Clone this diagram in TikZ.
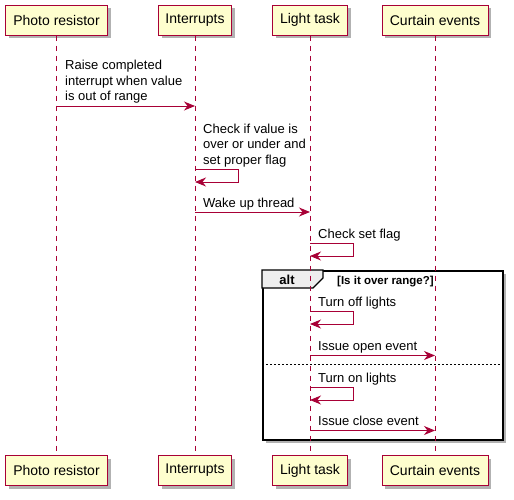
\documentclass[tikz,border=0pt]{standalone}
\usepackage{fontspec}
\setmainfont{Liberation Sans}
\usetikzlibrary{arrows.meta,shadows}
\definecolor{pborder}{HTML}{A80036}
\definecolor{pfill}{HTML}{FEFECE}
\definecolor{tabfill}{HTML}{EEEEEE}
\tikzset{
  part/.style={draw=pborder, fill=pfill, line width=1pt, minimum height=30pt,
    inner sep=0pt, font=\fontsize{14}{17}\selectfont,
    drop shadow={shadow xshift=3pt, shadow yshift=-3pt, opacity=0.3, fill=black}},
  lifeline/.style={draw=pborder, line width=0.8pt, dash pattern=on 5pt off 5pt},
  msg/.style={draw=pborder, line width=1pt,
    -{Stealth[length=11pt, width=9pt, inset=3.5pt]}},
  msgtext/.style={font=\fontsize{13}{15.5}\selectfont, align=left, inner sep=0pt,
    text depth=0pt, anchor=south west},
  altframe/.style={draw=black, line width=1.6pt, fill=white, inner sep=0pt,
    anchor=north west,
    drop shadow={shadow xshift=3pt, shadow yshift=-3pt, opacity=0.3, fill=black}},
  tabshape/.style={draw=black, line width=1.2pt, fill=tabfill},
  separator/.style={draw=black, line width=0.8pt, dash pattern=on 2pt off 2pt},
}
\begin{document}
\begin{tikzpicture}[x=1pt,y=-1pt]
\useasboundingbox (0,0) rectangle (514,499);

% alt frame
\node[altframe, minimum width=240pt, minimum height=169pt] (alt) at (262,270) {};
\draw[tabshape] (262,270) -- (323,270) -- (323,278) -- (313,288) -- (262,288) -- cycle;
\node[font=\bfseries\fontsize{13}{15}\selectfont, inner sep=0pt, anchor=base] (altlbl) at (287,284.5) {alt};
\node[font=\bfseries\fontsize{11.5}{14}\selectfont, inner sep=0pt, anchor=base west] (cond) at (337,284) {[Is it over range?]};
\coordinate (sepL) at (262,364);
\coordinate (sepR) at (502,364);
\draw[separator] (sepL) -- (sepR);

% participants
\node[part, minimum width=102pt] (pa) at (56.5,20) {Photo resistor};
\node[part, minimum width=73pt] (pb) at (195,20) {Interrupts};
\node[part, minimum width=75pt] (pc) at (310,20) {Light task};
\node[part, minimum width=106pt] (pd) at (435,20) {Curtain events};
\node[part, minimum width=102pt] (qa) at (56.5,470.5) {Photo resistor};
\node[part, minimum width=73pt] (qb) at (195,470.5) {Interrupts};
\node[part, minimum width=75pt] (qc) at (310,470.5) {Light task};
\node[part, minimum width=106pt] (qd) at (435,470.5) {Curtain events};

% lifelines
\draw[lifeline] (pa.south) -- (qa.north);
\draw[lifeline] (pb.south) -- (qb.north);
\draw[lifeline] (pc.south) -- (qc.north);
\draw[lifeline] (pd.south) -- (qd.north);

% message 1
\node[msgtext] (t1) at (65,101) {Raise completed\\interrupt when value\\is out of range};
\coordinate (m1s) at (56.5,106);
\coordinate (m1e) at (195,106);
\draw[msg] (m1s) -- (m1e);

% message 2 (self)
\node[msgtext] (t2) at (203,164.5) {Check if value is\\over or under and\\set proper flag};
\coordinate (m2s) at (195,169);
\coordinate (m2e) at (195,182);
\draw[msg] (m2s) -- ++(43,0) |- (m2e);

% message 3
\node[msgtext] (t3) at (203,207.5) {Wake up thread};
\coordinate (m3s) at (195,212);
\coordinate (m3e) at (310,212);
\draw[msg] (m3s) -- (m3e);

% message 4 (self)
\node[msgtext] (t4) at (318,238.5) {Check set flag};
\coordinate (m4s) at (310,243);
\coordinate (m4e) at (310,256);
\draw[msg] (m4s) -- ++(43,0) |- (m4e);

% message 5 (self)
\node[msgtext] (t5) at (318,306.5) {Turn off lights};
\coordinate (m5s) at (310,311);
\coordinate (m5e) at (310,324);
\draw[msg] (m5s) -- ++(43,0) |- (m5e);

% message 6
\node[msgtext] (t6) at (318,351) {Issue open event};
\coordinate (m6s) at (310,355.5);
\coordinate (m6e) at (435,355.5);
\draw[msg] (m6s) -- (m6e);

% message 7 (self)
\node[msgtext] (t7) at (318,382.5) {Turn on lights};
\coordinate (m7s) at (310,387);
\coordinate (m7e) at (310,400);
\draw[msg] (m7s) -- ++(43,0) |- (m7e);

% message 8
\node[msgtext] (t8) at (318,425.5) {Issue close event};
\coordinate (m8s) at (310,430.5);
\coordinate (m8e) at (435,430.5);
\draw[msg] (m8s) -- (m8e);
\end{tikzpicture}
\end{document}
